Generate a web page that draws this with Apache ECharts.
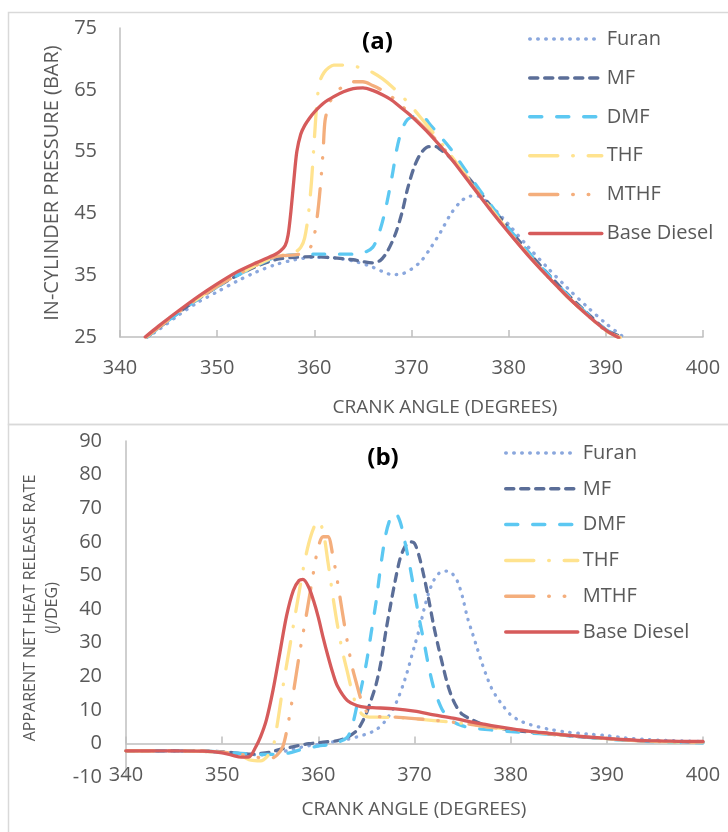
<!DOCTYPE html>
<html><head><meta charset="utf-8">
<script src="https://cdn.jsdelivr.net/npm/echarts@6/dist/echarts.min.js"></script>
<style>html,body{margin:0;padding:0;background:#fff}#c{width:728px;height:832px}</style>
</head><body><div id="c"></div>
<script>
// ---------- DATA ----------
const seriesNames = ['Furan', 'MF', 'DMF', 'THF', 'MTHF', 'Base Diesel'];
const xTickValues = [340, 350, 360, 370, 380, 390, 400];
const pressureTicks = [25, 35, 45, 55, 65, 75];
const heatTicks = [-10, 0, 10, 20, 30, 40, 50, 60, 70, 80, 90];

// (a) in-cylinder pressure [crank angle, bar]
const furanPressure = [[342.8,25],[344,26.2],[346,28.5],[348,30.6],[350,32.3],[352,34],[354,35.5],[356,36.7],[358,37.5],[360,37.9],[362,37.8],[364,37.3],[366,36.3],[367,35.6],[368,35.1],[369,35.2],[370,36],[371,37.3],[372,39.5],[373,42],[374,44.8],[375,46.8],[376,47.8],[376.8,47.8],[378,46.5],[380,43.2],[382,39.6],[384,36.2],[386,33],[388,30],[390,27.2],[391.9,24.9]];
const mfPressure = [[342.8,25],[344,26.5],[346,28.9],[348,31.1],[350,33.1],[352,34.9],[354,36.4],[356,37.5],[358,37.9],[360,38],[362,37.8],[364,37.5],[365,37.2],[366,37],[366.8,37.4],[367.5,38.8],[368.3,41.5],[369,45],[369.6,49],[370.3,52.6],[371,54.8],[371.8,55.8],[372.5,55.8],[373,55.3],[374,54],[376,50.5],[378,46.5],[380,42.6],[382,38.8],[384,35.3],[386,32],[388,29],[390,26.2],[391.8,24.9]];
const dmfPressure = [[342.8,25],[344,26.5],[346,28.9],[348,31.1],[350,33.1],[352,34.9],[354,36.5],[356,37.9],[358,38.3],[360,38.4],[362,38.4],[364,38.4],[365,38.6],[366,39.5],[366.7,42],[367.3,45.5],[368,51],[368.5,55.5],[369,58.5],[369.6,60.2],[370.3,60.7],[371,60.8],[372,59.2],[373,57.4],[374,55.5],[376,51],[378,46.7],[380,42.6],[382,38.8],[384,35.2],[386,31.9],[388,28.9],[390,26.2],[391.7,24.9]];
const thfPressure = [[342.7,25],[344,26.6],[346,29],[348,31.2],[350,33.2],[352,35],[354,36.6],[356,38],[357,38.3],[358,38.7],[358.6,39.5],[359,41],[359.4,45],[359.7,50],[360,57],[360.3,63.5],[360.6,66.5],[361,67.8],[361.5,68.6],[362,69],[363,69],[364,68.8],[365,68.5],[366,67.8],[367,66.8],[368,65.5],[369,64],[370,62.3],[371,60.4],[372,58.5],[374,54.5],[376,50.3],[378,46.1],[380,42.1],[382,38.3],[384,34.8],[386,31.6],[388,28.7],[390,26],[391.5,24.9]];
const mthfPressure = [[342.7,25],[344,26.6],[346,29],[348,31.2],[350,33.2],[352,35],[354,36.6],[356,38],[358,38.3],[359,38.6],[359.6,39.5],[360,41.5],[360.3,44.5],[360.6,49],[360.9,55],[361.1,60],[361.5,62.5],[362,64.2],[363,65.6],[364,66.3],[365,66.3],[366,65.7],[367,64.9],[368,63.8],[369,62.4],[370,60.9],[372,57.8],[374,54.2],[376,50.1],[378,46],[380,42],[382,38.3],[384,34.8],[386,31.6],[388,28.7],[390,26],[391.4,24.9]];
const dieselPressure = [[342.6,25],[344,26.8],[346,29.2],[348,31.5],[350,33.6],[352,35.5],[354,37],[356,38.4],[356.5,38.9],[357,39.8],[357.3,41.5],[357.6,45.5],[357.9,50.5],[358.2,55],[358.6,57.8],[359,59.2],[359.5,60.4],[360,61.4],[361,62.9],[362,63.9],[363,64.7],[364,65.2],[365,65.3],[366,64.9],[367,64.2],[368,63.3],[369,62],[370,60.7],[372,57.6],[374,54],[376,49.9],[378,45.8],[380,41.9],[382,38.2],[384,34.8],[386,31.6],[388,28.7],[390,26.1],[391.3,24.9]];

// (b) apparent net heat release rate [crank angle, J/deg]
const furanHeat = [[340,-2.2],[344,-2.2],[348,-2.4],[350,-2.6],[352,-3.1],[354,-3.4],[355,-3.2],[356,-2.7],[357,-2],[358,-1.3],[359,-0.7],[360,-0.3],[361,0.2],[362,0.7],[363,1.2],[364,1.9],[365,2.8],[366,4],[367,6.8],[368,11.5],[369,19],[370,29],[370.5,34],[371,40],[371.5,45],[372,48.5],[372.5,50.5],[373,51.3],[373.5,51.3],[374,50.3],[374.5,48],[375,43.5],[375.5,37.5],[376,33],[376.5,28.5],[377,24],[377.5,20],[378,16.5],[378.5,14],[379,12],[380,8.5],[381,6.7],[382,5.6],[384,4.2],[386,3.3],[388,2.8],[390,2.3],[392,1.6],[394,1.2],[396,0.9],[398,0.7],[400,0.6]];
const mfHeat = [[340,-2.2],[344,-2.2],[348,-2.3],[350,-2.5],[352,-3],[353,-3.2],[354,-3],[355,-2.6],[356,-1.8],[357,-1.2],[358,-0.6],[359,-0.1],[360,0.2],[361,0.5],[362,0.8],[363,1.8],[364,3.8],[364.5,6],[365,9],[365.5,13],[366,17.5],[366.5,24],[367,33],[367.5,41],[368,48.5],[368.5,55],[369,58.5],[369.5,60],[370,59.5],[370.5,55.5],[371,49.5],[371.5,42.5],[372,35],[372.5,28.5],[373,22.5],[373.5,17],[374,13],[374.5,10.3],[375,8.6],[376,7],[377,5.8],[378,5],[380,4],[382,3.4],[384,2.8],[386,2.3],[388,1.8],[390,1.4],[392,1],[394,0.7],[396,0.6],[398,0.5],[400,0.4]];
const dmfHeat = [[340,-2.2],[344,-2.2],[348,-2.3],[350,-2.6],[352,-3],[354,-3.3],[356,-3.2],[357,-2.8],[358,-2],[359,-1.4],[360,-0.8],[361,-0.4],[362,0.3],[363,1.8],[363.5,5],[364,11],[364.5,17],[365,24],[365.5,33],[366,42],[366.5,53],[367,62],[367.5,67],[368,68.5],[368.5,66],[369,60],[369.5,53],[370,45],[370.5,37],[371,30],[371.5,22.5],[372,16.5],[372.5,12.5],[373,9.5],[374,6.5],[375,5.2],[376,4.6],[378,4],[380,3.5],[382,3.1],[384,2.7],[386,2.3],[388,1.8],[390,1.3],[392,0.9],[394,0.6],[396,0.4],[398,0.3],[400,0.2]];
const thfHeat = [[340,-2.2],[344,-2.2],[348,-2.4],[350,-2.8],[352,-3.8],[353,-5],[354,-5.2],[354.8,-3.5],[355.3,-1],[355.8,7],[356.3,16.5],[356.8,25],[357.4,35],[358,45],[358.5,53],[359,59.5],[359.5,64],[360,66.3],[360.5,63],[361,54],[361.5,44],[362,35],[362.5,27.5],[363,21.5],[363.5,15.5],[364,11],[364.5,8.8],[365,8],[366,7.8],[368,7.7],[370,7.3],[372,6.8],[374,6.3],[376,5.6],[378,4.8],[380,4.2],[382,3.5],[384,2.9],[386,2.4],[388,1.9],[390,1.4],[392,1],[394,0.7],[396,0.5],[398,0.4],[400,0.4]];
const mthfHeat = [[340,-2.2],[344,-2.2],[348,-2.3],[350,-2.6],[352,-3.3],[353,-3.8],[354,-4.3],[355,-4.5],[355.7,-3.5],[356.3,-1],[356.8,5],[357.4,15],[358,26],[358.8,39],[359.5,51],[360,58.5],[360.5,61.5],[361,61.5],[361.5,56],[362,48],[362.5,39],[363,30.5],[363.5,23],[364,17.5],[364.5,12.5],[365,9.5],[365.5,8.3],[366,8],[368,7.8],[370,7.4],[372,6.9],[374,6.3],[376,5.6],[378,4.8],[380,4.2],[382,3.5],[384,2.9],[386,2.4],[388,1.9],[390,1.4],[392,1],[394,0.7],[396,0.5],[398,0.4],[400,0.4]];
const dieselHeat = [[340,-2.2],[345,-2.2],[348,-2.3],[350,-2.8],[351,-3.5],[352,-4.1],[352.8,-4],[353.5,-1],[354,2],[354.6,7],[355.3,16],[356,27],[356.7,38],[357.4,45.5],[358,48.5],[358.4,48.8],[359,46.5],[359.5,42.5],[360,37.5],[360.5,31.5],[361,26],[361.5,21],[362,17],[363,12.8],[364,11.3],[365,10.7],[366,10.6],[368,10.3],[370,9.6],[372,8.5],[374,7.5],[376,6.3],[378,5.3],[380,4.4],[382,3.6],[384,3],[386,2.4],[388,1.9],[390,1.5],[392,1.1],[394,0.8],[396,0.7],[398,0.6],[400,0.6]];

const pressureData = [furanPressure, mfPressure, dmfPressure, thfPressure, mthfPressure, dieselPressure];
const heatData = [furanHeat, mfHeat, dmfHeat, thfHeat, mthfHeat, dieselHeat];

// ---------- STYLES ----------
const FONT = '"Open Sans", "DejaVu Sans", sans-serif';
const TXT = '#595959';
const AXIS = '#bfbfbf';
const lineStyles = [
  { color: '#8AA7DD', type: [0.5, 7.5] },
  { color: '#5B6E98', type: [8, 7] },
  { color: '#5CC8F2', type: [12, 15] },
  { color: '#FFE38F', type: [28, 15, 0.5, 15] },
  { color: '#F4AE7C', type: [28, 15, 0.5, 15, 0.5, 15] },
  { color: '#D65B5B', type: 'solid' }
];

function makeSeries(dataSets, gridIdx) {
  return dataSets.map((d, i) => ({
    name: seriesNames[i],
    type: 'line',
    xAxisIndex: gridIdx,
    yAxisIndex: gridIdx,
    data: d,
    symbol: 'none',
    smooth: 0.3,
    color: lineStyles[i].color,
    lineStyle: { width: 3.3, color: lineStyles[i].color, type: lineStyles[i].type, cap: 'round', join: 'round' },
    emphasis: { disabled: true },
    z: 2 + i
  }));
}

const xMin = xTickValues[0], xMax = xTickValues[xTickValues.length - 1];
const labelStyle = { color: TXT, fontSize: 20, fontFamily: FONT };
const legendBase = {
  orient: 'vertical', itemWidth: 72, itemHeight: 20,
  textStyle: { color: TXT, fontSize: 20, fontFamily: FONT, lineHeight: 20 },
  itemStyle: { opacity: 0, borderWidth: 0 },
  lineStyle: { width: 3.5 },
  data: seriesNames, selectedMode: false
};

const chart = echarts.init(document.getElementById('c'), null, { renderer: 'canvas' });
const option = {
  animation: false,
  backgroundColor: '#ffffff',
  textStyle: { fontFamily: FONT },
  grid: [
    { left: 120, right: 25, top: 28, height: 309 },
    { left: 126, right: 25, top: 441, height: 336 }
  ],
  xAxis: [
    { gridIndex: 0, type: 'value', min: xMin, max: xMax, interval: 10,
      axisLine: { onZero: false, lineStyle: { color: AXIS, width: 1.5 } },
      axisTick: { show: true, inside: true, length: 7, lineStyle: { color: AXIS, width: 1.5 } },
      axisLabel: Object.assign({ margin: 21 }, labelStyle),
      splitLine: { show: false } },
    // bottom chart: labels at grid bottom
    { gridIndex: 1, type: 'value', min: xMin, max: xMax, interval: 10,
      axisLine: { show: false, onZero: false },
      axisTick: { show: false },
      axisLabel: Object.assign({ margin: -12 }, labelStyle),
      splitLine: { show: false } },
    // bottom chart: axis line and ticks crossing at y = 0
    { gridIndex: 1, type: 'value', min: xMin, max: xMax, interval: 10, position: 'bottom', offset: -33.6,
      axisLine: { show: true, onZero: false, lineStyle: { color: AXIS, width: 1.5 } },
      axisTick: { show: true, inside: true, length: 7, lineStyle: { color: AXIS, width: 1.5 } },
      axisLabel: { show: false },
      splitLine: { show: false } }
  ],
  yAxis: [
    { gridIndex: 0, type: 'value', min: pressureTicks[0], max: pressureTicks[pressureTicks.length - 1], interval: 10,
      axisLine: { show: true, onZero: false, lineStyle: { color: AXIS, width: 1.5 } },
      axisTick: { show: false },
      axisLabel: Object.assign({ margin: 23 }, labelStyle),
      splitLine: { show: false } },
    { gridIndex: 1, type: 'value', min: heatTicks[0], max: heatTicks[heatTicks.length - 1], interval: 10,
      axisLine: { show: true, onZero: false, lineStyle: { color: AXIS, width: 1.5 } },
      axisTick: { show: false },
      axisLabel: Object.assign({ margin: 24 }, labelStyle),
      splitLine: { show: false } }
  ],
  legend: [
    Object.assign({ left: 523, top: 24, itemGap: 18.9 }, legendBase),
    Object.assign({ left: 499, top: 438, itemGap: 15.8 }, legendBase)
  ],
  graphic: [
    { type: 'rect', shape: { x: 8.5, y: 12.5, width: 740, height: 412 }, style: { fill: 'none', stroke: '#d9d9d9', lineWidth: 1.5 }, silent: true, z: -1 },
    { type: 'rect', shape: { x: 8.5, y: 424.5, width: 740, height: 420 }, style: { fill: 'none', stroke: '#d9d9d9', lineWidth: 1.5 }, silent: true, z: -1 },
    { type: 'text', x: 377.5, y: 42, style: { text: '(a)', font: 'bold 24px ' + FONT, fill: '#000', align: 'center', verticalAlign: 'middle' } },
    { type: 'text', x: 383, y: 458, style: { text: '(b)', font: 'bold 24px ' + FONT, fill: '#000', align: 'center', verticalAlign: 'middle' } },
    { type: 'text', x: 445, y: 408, style: { text: 'CRANK ANGLE (DEGREES)', font: '19px ' + FONT, fill: TXT, align: 'center', verticalAlign: 'middle' } },
    { type: 'text', x: 414, y: 810, style: { text: 'CRANK ANGLE (DEGREES)', font: '19px ' + FONT, fill: TXT, align: 'center', verticalAlign: 'middle' } },
    { type: 'text', x: 52, y: 183, rotation: Math.PI / 2, style: { text: 'IN-CYLINDER PRESSURE (BAR)', font: '20px ' + FONT, fill: TXT, align: 'center', verticalAlign: 'middle' } },
    { type: 'text', x: 41, y: 608, rotation: Math.PI / 2, style: { text: 'APPARENT NET HEAT RELEASE RATE\n(J/DEG)', font: '16px ' + FONT, lineHeight: 22, fill: TXT, align: 'center', verticalAlign: 'middle' } }
  ],
  series: makeSeries(pressureData, 0).concat(makeSeries(heatData, 1))
};
chart.setOption(option);
</script>
</body></html>
